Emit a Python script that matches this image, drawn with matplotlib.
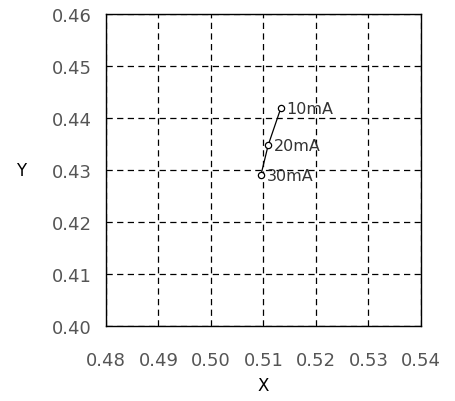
import numpy as np
import matplotlib.pyplot as plt

# current points
currents = ["10mA", "20mA", "30mA"]
x_vals = [0.5133, 0.5109, 0.5095]
y_vals = [0.4419, 0.4348, 0.4290]

x_ticks = [0.48, 0.49, 0.50, 0.51, 0.52, 0.53, 0.54]
y_ticks = [0.40, 0.41, 0.42, 0.43, 0.44, 0.45, 0.46]

fig = plt.figure(figsize=(4.55, 4.02), dpi=100)
ax = fig.add_axes([106/455, 1-327/402, 315/455, 312/402])

ax.plot(x_vals, y_vals, color="black", lw=0.9, marker="o", ms=4.5,
        mfc="white", mec="black", mew=0.9)
for lab, xv, yv in zip(currents, x_vals, y_vals):
    ax.annotate(lab, (xv, yv), xytext=(4, 0), textcoords="offset points",
                va="center", ha="left", fontsize=11.5, color="#333333")

ax.set_xlim(0.48, 0.54)
ax.set_ylim(0.40, 0.46)
ax.set_xticks(x_ticks)
ax.set_yticks(y_ticks)
ax.set_xticklabels(["%.2f" % v for v in x_ticks])
ax.set_yticklabels(["%.2f" % v for v in y_ticks])
ax.tick_params(length=0, labelsize=13, labelcolor="#555555")
ax.tick_params(axis="x", pad=18)
ax.tick_params(axis="y", pad=10)
ax.grid(True, color="black", ls=(0, (5, 3.5)), lw=0.9)
for s in ax.spines.values():
    s.set_linewidth(1.0)

ax.set_xlabel("X", fontsize=12, labelpad=5)
ax.set_ylabel("Y", fontsize=12, rotation=0, labelpad=22, va="center")

fig.savefig("out.png", dpi=100)
